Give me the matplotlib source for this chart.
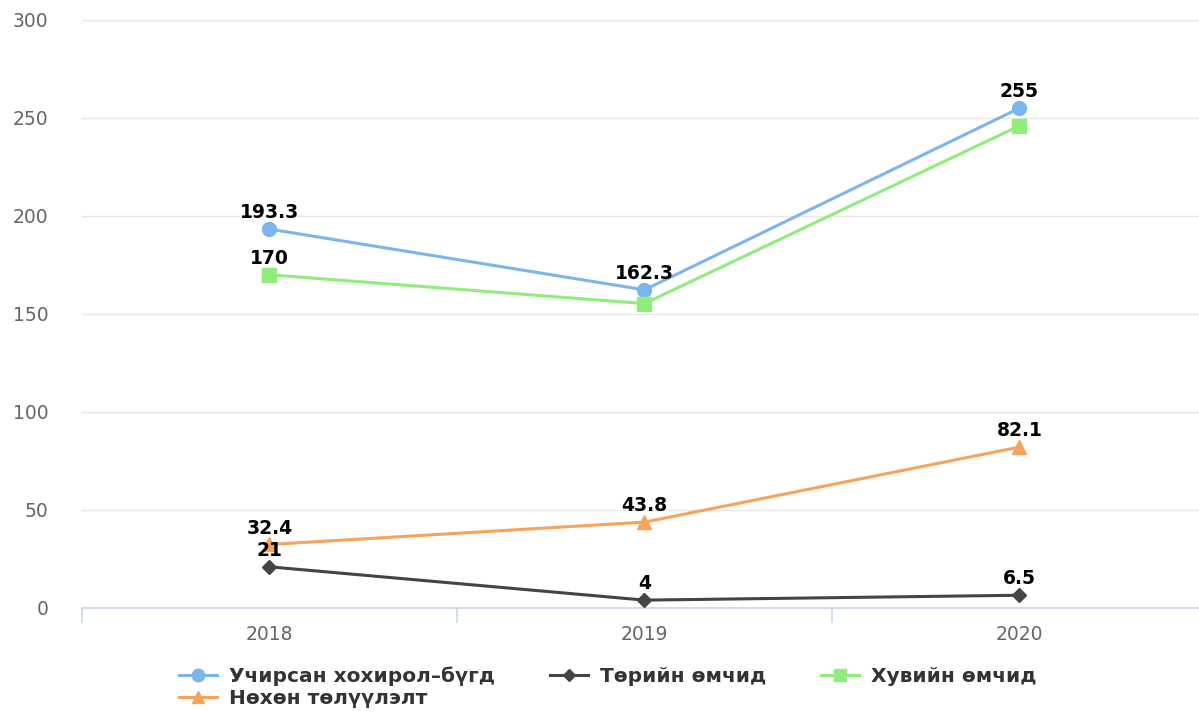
import matplotlib.pyplot as plt

years = ['2018', '2019', '2020']
total = [193.3, 162.3, 255]
state = [21, 4, 6.5]
private = [170, 155.3, 246]
reprod = [32.4, 43.8, 82.1]

names = ['Учирсан хохирол–бүгд', 'Төрийн өмчид', 'Хувийн өмчид', 'Нөхөн төлүүлэлт']
colors = ['#7cb5ec', '#434348', '#90ed7d', '#f7a35c']
markers = ['o', 'D', 's', '^']
msizes = [10, 7, 10, 10]
# which points get a value label (green labels hidden in the original except the first)
show = [[1, 1, 1], [1, 1, 1], [1, 0, 0], [1, 1, 1]]

plt.rcParams['font.family'] = ['DejaVu Sans']

fig = plt.figure(figsize=(11.99, 7.13), dpi=100)
ax = fig.add_axes([0.0684, 0.1473, 1 - 0.0684, 0.972 - 0.1473])

x = list(range(len(years)))
series = [total, state, private, reprod]
handles = []
for vals, name, c, m, ms, sh in zip(series, names, colors, markers, msizes, show):
    ln, = ax.plot(x, vals, color=c, marker=m, markersize=ms, linewidth=2.2, label=name, zorder=3)
    handles.append(ln)
    for xi, v, s in zip(x, vals, sh):
        if s:
            ax.annotate(f'{v:g}', (xi, v), xytext=(0, 5), textcoords='offset points',
                        ha='center', va='bottom', fontsize=13.5, fontweight='bold', color='black', zorder=4)

ax.set_ylim(0, 300)
ax.set_xlim(-0.5, 2.479)
ax.set_yticks([0, 50, 100, 150, 200, 250, 300])
ax.set_xticks(x)
ax.set_xticklabels(years)
ax.set_xticks([-0.5, 0.5, 1.5], minor=True)
ax.tick_params(axis='x', which='major', length=0, pad=12, labelsize=13.5, labelcolor='#666666')
ax.tick_params(axis='x', which='minor', length=11, width=1.2, color='#ccd6eb', direction='out')
ax.tick_params(axis='y', length=0, pad=24, labelsize=13.5, labelcolor='#666666')
ax.grid(axis='y', color='#e6e6e6', linewidth=1)
ax.set_axisbelow(True)
for s in ['top', 'right', 'left']:
    ax.spines[s].set_visible(False)
ax.spines['bottom'].set_color('#ccd6eb')
ax.spines['bottom'].set_linewidth(1.2)

order = [0, 3, 1, 2]
leg = fig.legend([handles[i] for i in order], [names[i] for i in order], ncol=3,
                 loc='lower center', bbox_to_anchor=(0.507, -0.018), frameon=False,
                 prop={'size': 14.5, 'weight': 'bold'}, handlelength=1.9, markerscale=0.9,
                 columnspacing=2.7, labelspacing=0.12, handletextpad=0.6)
for t in leg.get_texts():
    t.set_color('#333333')

fig.savefig('out.png', dpi=100)
